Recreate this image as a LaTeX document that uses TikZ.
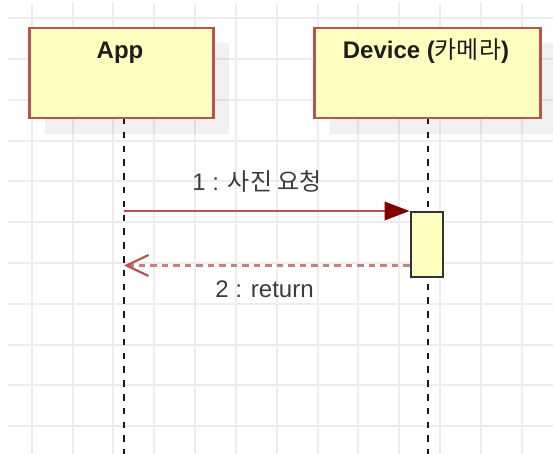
\documentclass[tikz,border=0pt]{standalone}
\usepackage{fontspec}
\setmainfont{Liberation Sans}
\newfontfamily\krfont{Noto Sans CJK KR}
\usetikzlibrary{arrows.meta}

\definecolor{gridgray}{HTML}{EDEDED}
\definecolor{lifefill}{HTML}{FFFFC0}
\definecolor{lifeedge}{HTML}{B85450}
\definecolor{msgred}{HTML}{B85450}
\definecolor{retred}{HTML}{C8807D}
\definecolor{headred}{HTML}{800000}
\definecolor{titleink}{HTML}{1E1E1E}
\definecolor{labelink}{HTML}{3C3C3C}
\definecolor{actedge}{HTML}{333333}

\tikzset{
  gridline/.style={draw=gridgray, line width=1.2pt},
  header/.style={draw=lifeedge, fill=lifefill, line width=2.5pt,
    minimum width=184pt, minimum height=90pt, inner sep=0pt, anchor=north west},
  hshadow/.style={fill=black, fill opacity=0.055, draw=none},
  title/.style={text=titleink, font=\fontsize{24}{28}\selectfont\bfseries, inner sep=0pt, anchor=base},
  lifeline/.style={draw=black!90, line width=2pt, dash pattern=on 6.5pt off 7.3pt},
  activation/.style={draw=actedge, fill=lifefill, line width=2pt,
    minimum width=32pt, minimum height=65pt, inner sep=0pt, anchor=north west},
  callmsg/.style={draw=msgred, line width=2.5pt,
    -{Triangle[length=25pt, width=19pt, color=headred, line width=0pt]}},
  retmsg/.style={draw=retred, line width=2.2pt, dash pattern=on 6.5pt off 5pt,
    -{Straight Barb[length=22pt, width=21pt, line width=2.2pt, color=msgred]}},
  msglabel/.style={text=labelink, font=\fontsize{24}{28}\selectfont, inner sep=0pt, anchor=base}
}

\begin{document}
\begin{tikzpicture}[x=1pt, y=-1pt]
  \useasboundingbox (0,0) rectangle (553,454);
  \fill[white] (0,0) rectangle (553,454);

  % background grid
  \foreach \gx in {32,73,113,154,195,236,277,318,358,399,440,481,522}
    \draw[gridline] (\gx,3) -- (\gx,454);
  \foreach \gy in {18,59,100,141,181,222,263,304,345,385,426}
    \draw[gridline] (8,\gy) -- (553,\gy);

  % header shadows
  \fill[hshadow] (45,43) rectangle (229,134);
  \fill[hshadow] (330,43) rectangle (556,134);

  % lifelines
  \coordinate (appTop) at (124,118);
  \coordinate (appEnd) at (124,456);
  \coordinate (devTop) at (427.5,118);
  \coordinate (devEnd) at (427.5,456);
  \draw[lifeline] (appTop) -- (appEnd);
  \draw[lifeline] (devTop) -- (devEnd);

  % lifeline headers
  \node[header] (app) at (28,27) {};
  \node[header, minimum width=226pt] (dev) at (313,27) {};
  \node[title] (appTitle) at (120,59) {App};
  \node[title] (devTitle) at (426,59) {Device ({\krfont\mdseries 카메라})};

  % activation bar on the device lifeline
  \node[activation] (act) at (409.5,211) {};

  % messages
  \coordinate (callStart) at (124,211);
  \draw[callmsg] (callStart) -- (act.north west);
  \node[msglabel] (callLabel) at (257,191) {1 : {\krfont 사진 요청}};

  \coordinate (retEnd) at (124,265.5);
  \draw[retmsg] (act.west |- retEnd) -- (retEnd);
  \node[msglabel] (retLabel) at (264.5,297) {2 : return};
\end{tikzpicture}
\end{document}
